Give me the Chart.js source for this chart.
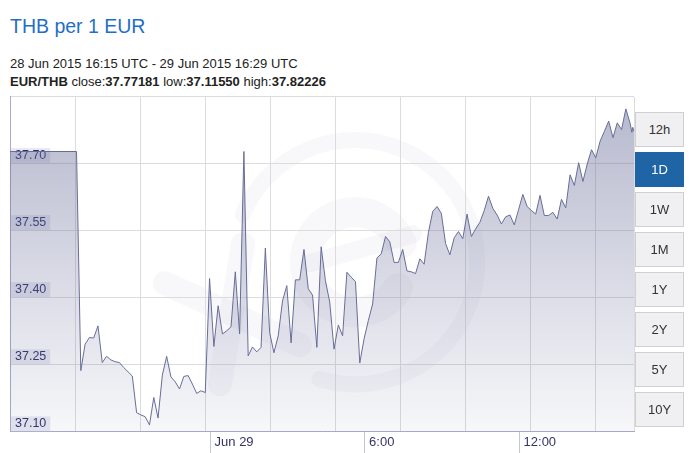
<!DOCTYPE html>
<html>
<head>
<meta charset="utf-8">
<script src="https://cdn.jsdelivr.net/npm/chart.js@4.4.1/dist/chart.umd.min.js"></script>
<style>
  body { margin: 0; background: #fff; font-family: "Liberation Sans", Arial, sans-serif; width: 699px; height: 453px; overflow: hidden; position: relative; }
  #title { position: absolute; left: 10px; top: 17px; font-size: 19.5px; line-height: 19.5px; color: #1f6fc5; white-space: nowrap; }
  .info { position: absolute; left: 10px; font-size: 13px; line-height: 13px; color: #222; white-space: nowrap; }
  #range { top: 57px; }
  #stats { top: 75px; }
  #wrap { position: absolute; left: 0; top: 83.5px; width: 640px; height: 369.5px; }
  .btn { position: absolute; left: 635px; width: 49px; height: 35px; box-sizing: border-box; border: 1px solid #cfcfd4; background: #f0f0f3; color: #333; font-size: 13px; line-height: 33px; text-align: center; }
  .btn.on { background: #1f65a6; border-color: #1f65a6; color: #fff; }
</style>
</head>
<body>
<div id="title">THB per 1 EUR</div>
<div class="info" id="range">28 Jun 2015 16:15 UTC - 29 Jun 2015 16:29 UTC</div>
<div class="info" id="stats"><b>EUR/THB</b> close:<b>37.77181</b> low:<b>37.11550</b> high:<b>37.82226</b></div>
<div id="wrap"><canvas id="rateChart"></canvas></div>
<script>
// minutes relative to 29 Jun 2015 00:00 UTC
const minutes = [-465, -310, -300, -290, -280, -270, -260, -250, -240, -230, -220, -210, -200, -180, -170, -160, -150, -140, -130, -120,
  -110, -100, -90, -80, -70, -60, -50, -40, -30, -20, -10, 0, 10, 20, 30, 40, 50, 60, 70, 80,
  90, 100, 110, 120, 130, 140, 150, 160, 170, 180, 190, 200, 210, 220, 230, 240, 250, 260, 270, 280,
  290, 300, 310, 320, 330, 340, 350, 360, 370, 380, 390, 400, 410, 420, 430, 440, 450, 460, 470, 480,
  490, 500, 510, 520, 530, 540, 550, 560, 570, 580, 590, 600, 610, 620, 630, 640, 650, 660, 670, 680,
  690, 700, 710, 720, 730, 740, 750, 760, 770, 780, 790, 800, 810, 820, 830, 840, 850, 860, 870, 880,
  890, 900, 910, 920, 930, 940, 950, 960, 970, 980, 984, 986, 989];
const rates = [37.727, 37.727, 37.237, 37.296, 37.311, 37.310, 37.337, 37.255, 37.269, 37.261, 37.257, 37.255, 37.244, 37.225, 37.143, 37.138, 37.134, 37.1155, 37.177, 37.131,
  37.227, 37.269, 37.223, 37.212, 37.196, 37.224, 37.226, 37.207, 37.186, 37.192, 37.188, 37.443, 37.291, 37.382, 37.319, 37.326, 37.335, 37.458, 37.319, 37.727,
  37.270, 37.290, 37.279, 37.289, 37.511, 37.322, 37.277, 37.315, 37.393, 37.427, 37.299, 37.440, 37.440, 37.508, 37.420, 37.406, 37.289, 37.514, 37.438, 37.390,
  37.285, 37.339, 37.315, 37.457, 37.446, 37.436, 37.254, 37.308, 37.349, 37.386, 37.489, 37.498, 37.537, 37.525, 37.479, 37.479, 37.508, 37.460, 37.458, 37.454,
  37.487, 37.475, 37.546, 37.593, 37.604, 37.589, 37.521, 37.496, 37.534, 37.548, 37.532, 37.587, 37.537, 37.554, 37.569, 37.595, 37.627, 37.600, 37.585, 37.565,
  37.581, 37.585, 37.563, 37.597, 37.631, 37.604, 37.595, 37.587, 37.629, 37.584, 37.584, 37.591, 37.576, 37.620, 37.601, 37.675, 37.651, 37.702, 37.660, 37.699,
  37.731, 37.713, 37.750, 37.772, 37.795, 37.758, 37.791, 37.776, 37.82226, 37.790, 37.770, 37.781, 37.77181];

const tickMinutes = [0, 360, 720];
const tickLabels = ['Jun 29', '6:00', '12:00'];
const yTicks = [37.10, 37.25, 37.40, 37.55, 37.70, 37.85];
const periods = ['12h', '1D', '1W', '1M', '1Y', '2Y', '5Y', '10Y'];
const activePeriod = '1D';

// period buttons
periods.forEach((p, i) => {
  const b = document.createElement('div');
  b.className = 'btn' + (p === activePeriod ? ' on' : '');
  b.style.top = (112 + i * 40) + 'px';
  b.textContent = p;
  document.body.appendChild(b);
});

// faint logo behind the plot
const watermark = {
  id: 'watermark',
  beforeDraw(chart) {
    const a = chart.chartArea, c = chart.ctx;
    const cx = a.left + a.width * 0.553, cy = a.top + a.height * 0.494, u = a.height / 335;
    const deg = d => d * Math.PI / 180;
    c.save();
    c.strokeStyle = 'rgba(110,110,150,0.05)';
    c.lineCap = 'round';
    c.lineWidth = 16 * u;
    c.beginPath(); c.arc(cx, cy, 122 * u, deg(203), deg(107)); c.stroke();
    c.lineWidth = 30 * u;
    c.beginPath(); c.arc(cx, cy, 50 * u, deg(31), deg(338)); c.stroke();
    c.lineWidth = 18 * u;
    c.beginPath(); c.moveTo(cx - 45 * u, cy + 1 * u); c.lineTo(cx + 58 * u, cy - 28 * u); c.stroke();
    c.lineWidth = 24 * u;
    c.beginPath(); c.moveTo(cx - 190 * u, cy + 21 * u); c.lineTo(cx - 55 * u, cy + 83 * u); c.stroke();
    c.beginPath(); c.moveTo(cx - 112 * u, cy - 18 * u); c.lineTo(cx - 135 * u, cy + 122 * u); c.stroke();
    c.restore();
  }
};

// tick marks under the x axis
const tickMarks = {
  id: 'tickMarks',
  afterDraw(chart) {
    const x = chart.scales.x, c = chart.ctx, a = chart.chartArea;
    c.save();
    c.strokeStyle = '#c6c8da';
    c.lineWidth = 1;
    x.ticks.forEach(t => {
      const px = Math.round(x.getPixelForValue(t.value)) + 0.5;
      c.beginPath();
      c.moveTo(px, a.bottom);
      c.lineTo(px, chart.height);
      c.stroke();
    });
    c.restore();
  }
};

const ctx = document.getElementById('rateChart').getContext('2d');
const rateChart = new Chart(ctx, {
  type: 'line',
  data: {
    datasets: [{
      data: minutes.map((m, i) => ({ x: m, y: rates[i] })),
      borderColor: '#686d98',
      borderWidth: 1,
      pointRadius: 0,
      tension: 0,
      fill: 'start',
      backgroundColor: c => {
        const a = c.chart.chartArea;
        if (!a) return 'rgba(100,106,150,0.3)';
        const g = c.chart.ctx.createLinearGradient(0, a.top, 0, a.bottom);
        g.addColorStop(0, 'rgba(100,106,150,0.48)');
        g.addColorStop(1, 'rgba(100,106,150,0.05)');
        return g;
      }
    }]
  },
  options: {
    responsive: true,
    maintainAspectRatio: false,
    animation: false,
    layout: { padding: { left: 0, right: 6, top: 6, bottom: 0 } },
    plugins: { legend: { display: false }, tooltip: { enabled: false } },
    scales: {
      x: {
        type: 'linear', min: -465, max: 989,
        afterBuildTicks: s => { s.ticks = tickMinutes.map(v => ({ value: v })); },
        grid: { display: false, drawTicks: false },
        border: { color: '#a8abc9' },
        ticks: {
          align: 'start', labelOffset: 5, padding: 3, color: '#33336a', font: { size: 13 },
          maxRotation: 0, autoSkip: false,
          callback: v => { const i = tickMinutes.indexOf(v); return i < 0 ? '' : tickLabels[i]; }
        }
      },
      xg: {
        type: 'linear', position: 'top', min: 0, max: 9.6,
        ticks: { display: false, stepSize: 1 },
        grid: { color: '#dcdcdc', drawTicks: false },
        border: { display: false }
      },
      y: {
        min: 37.10, max: 37.85,
        afterBuildTicks: s => { s.ticks = yTicks.map(v => ({ value: v })); },
        border: { color: '#a8abc9' },
        grid: { color: '#dcdcdc', drawTicks: false },
        ticks: {
          mirror: true, padding: 5, labelOffset: -8, color: '#2f316a', font: { size: 12.5 },
          showLabelBackdrop: c => c.tick.value < 37.8,
          backdropColor: 'rgba(212,213,230,0.55)',
          backdropPadding: { top: 0, bottom: 0, left: 4, right: 4 },
          callback: v => v > 37.8 ? '' : v.toFixed(2)
        }
      }
    }
  },
  plugins: [watermark, tickMarks]
});
</script>
</body>
</html>
